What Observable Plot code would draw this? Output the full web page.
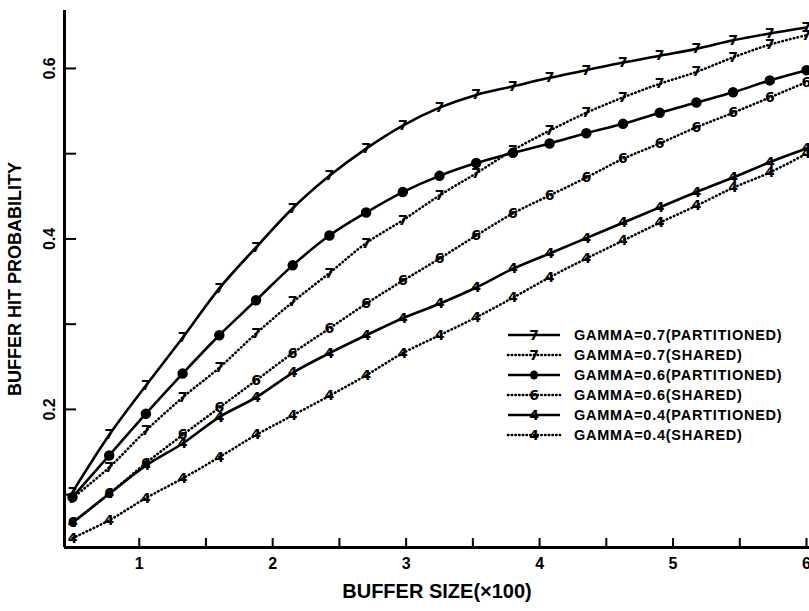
<!DOCTYPE html>
<html><head><meta charset="utf-8">
<script src="https://cdn.jsdelivr.net/npm/d3@7"></script>
<script src="https://cdn.jsdelivr.net/npm/@observablehq/plot@0.6"></script>
<style>
body{margin:0;background:#fff;}
#wrap{position:relative;width:809px;height:611px;font-family:"Liberation Sans",Arial,sans-serif;}
#legend{position:absolute;left:506px;top:325px;}
.row{display:flex;align-items:center;height:20px;}
.row svg{display:block;}
.row span{font-weight:bold;font-size:14.5px;margin-left:12px;letter-spacing:0.75px;color:#000;white-space:nowrap;}
</style></head><body><div id="wrap"><div id="legend"></div></div>
<script>
// ---- data ----
const bufferSize = [0.5, 0.775, 1.05, 1.325, 1.6, 1.875, 2.15, 2.425, 2.7, 2.975, 3.25, 3.525, 3.8, 4.075, 4.35, 4.625, 4.9, 5.175, 5.45, 5.725, 6.0];
const gamma07Partitioned = [0.103, 0.170, 0.228, 0.284, 0.342, 0.390, 0.436, 0.474, 0.506, 0.533, 0.554, 0.569, 0.579, 0.589, 0.598, 0.607, 0.615, 0.623, 0.633, 0.641, 0.648];
const gamma07Shared      = [0.096, 0.132, 0.175, 0.214, 0.249, 0.289, 0.326, 0.360, 0.395, 0.422, 0.451, 0.477, 0.504, 0.527, 0.548, 0.566, 0.582, 0.596, 0.613, 0.628, 0.639];
const gamma06Partitioned = [0.097, 0.146, 0.195, 0.242, 0.287, 0.328, 0.369, 0.404, 0.431, 0.455, 0.474, 0.489, 0.501, 0.512, 0.524, 0.535, 0.548, 0.560, 0.572, 0.586, 0.598];
const gamma06Shared      = [0.067, 0.101, 0.137, 0.170, 0.202, 0.234, 0.266, 0.295, 0.324, 0.351, 0.377, 0.404, 0.430, 0.451, 0.472, 0.494, 0.512, 0.531, 0.548, 0.566, 0.584];
const gamma04Partitioned = [0.067, 0.101, 0.134, 0.160, 0.191, 0.214, 0.243, 0.266, 0.287, 0.307, 0.324, 0.343, 0.365, 0.383, 0.401, 0.419, 0.437, 0.455, 0.472, 0.490, 0.506];
const gamma04Shared      = [0.049, 0.070, 0.096, 0.119, 0.144, 0.170, 0.193, 0.216, 0.240, 0.266, 0.287, 0.308, 0.331, 0.355, 0.377, 0.398, 0.419, 0.439, 0.460, 0.478, 0.500];

const seriesNames = ["GAMMA=0.7(PARTITIONED)", "GAMMA=0.7(SHARED)", "GAMMA=0.6(PARTITIONED)", "GAMMA=0.6(SHARED)", "GAMMA=0.4(PARTITIONED)", "GAMMA=0.4(SHARED)"];
const seriesGlyphs = ["7", "7", "6", "6", "4", "4"];
const seriesDotted = [false, true, false, true, false, true];
const seriesValues = [gamma07Partitioned, gamma07Shared, gamma06Partitioned, gamma06Shared, gamma04Partitioned, gamma04Shared];

const xTickValues = [1, 1.5, 2, 2.5, 3, 3.5, 4, 4.5, 5, 5.5, 6];
const xLabelValues = [1, 2, 3, 4, 5, 6];
const yTickValues = [0.1, 0.2, 0.3, 0.4, 0.5, 0.6];
const yLabelValues = [0.2, 0.4, 0.6];
const xTitle = "BUFFER SIZE(×100)";
const yTitle = "BUFFER HIT PROBABILITY";

// ---- build table ----
const rows = seriesNames.flatMap((name, s) => bufferSize.map((x, i) => ({
  name, glyph: seriesGlyphs[s], dotted: seriesDotted[s], filledDot: s === 2, x, y: seriesValues[s][i]
})));

const xDomain = [0.44, 6.0225];
const yDomain = [0.038, 0.668];
const font = '"Liberation Sans", Arial, sans-serif';
const glyphFont = '"DejaVu Sans", "Liberation Sans", sans-serif';

const chart = Plot.plot({
  width: 809, height: 611,
  marginLeft: 64, marginRight: 0, marginTop: 10, marginBottom: 64,
  style: {fontFamily: font, background: "white", color: "black", overflow: "visible"},
  x: {domain: xDomain, label: null},
  y: {domain: yDomain, label: null},
  marks: [
    Plot.axisX(xTickValues, {tickSize: -9, strokeWidth: 2, tickFormat: () => "", label: null}),
    Plot.axisY(yTickValues, {tickSize: -12, strokeWidth: 2, tickFormat: () => "", label: null}),
    Plot.ruleX([xDomain[0]], {strokeWidth: 3}),
    Plot.ruleY([yDomain[0]], {strokeWidth: 3}),
    Plot.text(xLabelValues, {x: d => d, frameAnchor: "bottom", dy: 21, textAnchor: "middle", fontSize: 16, fontWeight: "bold", text: d => String(d)}),
    Plot.text(yLabelValues, {y: d => d, frameAnchor: "left", dx: -15, rotate: -90, textAnchor: "middle", fontSize: 16, fontWeight: "bold", text: d => d.toFixed(1)}),
    Plot.text([xTitle], {frameAnchor: "bottom", dy: 50, textAnchor: "middle", fontSize: 20, fontWeight: "bold"}),
    Plot.text([yTitle], {frameAnchor: "left", dx: -49, rotate: -90, textAnchor: "middle", fontSize: 18, fontWeight: "bold"}),
    Plot.line(rows.filter(d => !d.dotted), {x: "x", y: "y", z: "name", curve: "catmull-rom", stroke: "black", strokeWidth: 2.6}),
    Plot.line(rows.filter(d => d.dotted), {x: "x", y: "y", z: "name", curve: "catmull-rom", stroke: "black", strokeWidth: 2.6, strokeDasharray: "0.5,3.4", strokeLinecap: "round"}),
    Plot.dot(rows.filter(d => d.filledDot), {x: "x", y: "y", r: 4.5, fill: "black", stroke: "black"}),
    Plot.text(rows.filter(d => !d.filledDot), {x: "x", y: "y", text: "glyph", fontFamily: glyphFont, fontSize: 14, fontWeight: "bold", fill: "black"})
  ]
});
document.getElementById("wrap").prepend(chart);

// ---- legend (HTML overlay) ----
const legend = document.getElementById("legend");
seriesNames.forEach((name, s) => {
  const row = document.createElement("div");
  row.className = "row";
  const dash = seriesDotted[s] ? ' stroke-dasharray="0.5,3.2" stroke-linecap="round"' : "";
  const marker = s === 2
    ? '<ellipse cx="28" cy="10" rx="4" ry="4.5" fill="black"/>'
    : `<text x="28" y="10" text-anchor="middle" dominant-baseline="central" font-family='${glyphFont}' font-weight="bold" font-size="14">${seriesGlyphs[s]}</text>`;
  row.innerHTML = `<svg width="56" height="20"><line x1="2" x2="54" y1="10" y2="10" stroke="black" stroke-width="2.5"${dash}/>${marker}</svg><span>${name}</span>`;
  legend.appendChild(row);
});
</script>
</body></html>
